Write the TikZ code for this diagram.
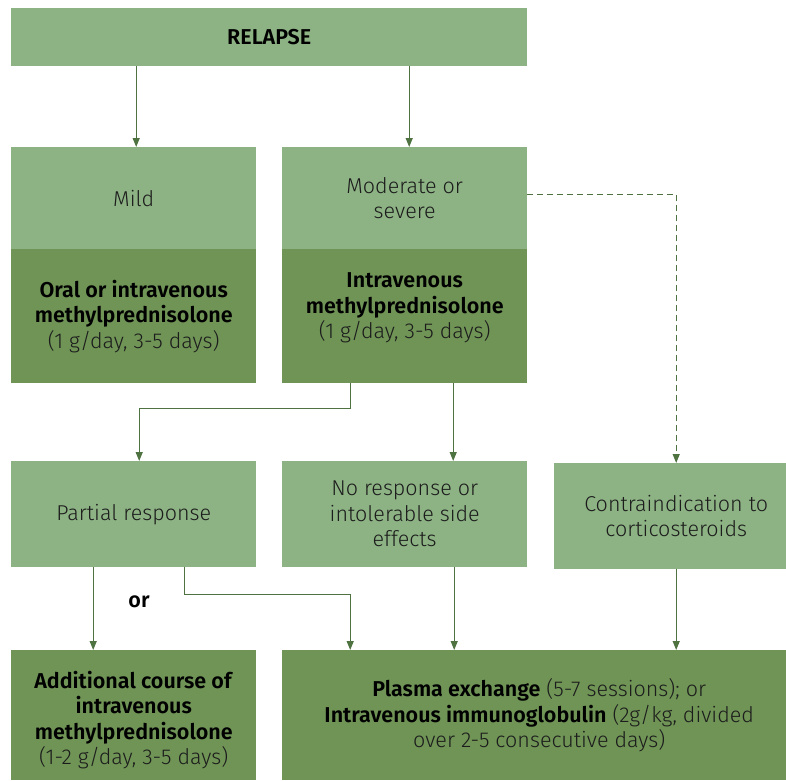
\documentclass[tikz,border=0pt]{standalone}
\usepackage{fontspec}
\setmainfont{Fira Sans}[UprightFont={* Light}, BoldFont={* SemiBold}]
\usetikzlibrary{arrows.meta}
\definecolor{lightg}{HTML}{8DB384}
\definecolor{darkg}{HTML}{6F9456}
\definecolor{lineg}{HTML}{4E7340}
\definecolor{txt}{HTML}{1C1C1C}
\newcommand\boldtxt[1]{\textcolor{black}{\textbf{#1}}}
\begin{document}
\begin{tikzpicture}[x=1pt,y=-1pt,
 box/.style={inner sep=0pt, anchor=north west, align=center, font=\fontsize{21.5}{25.5}\selectfont, text=txt},
 lightbox/.style={box, fill=lightg},
 darkbox/.style={box, fill=darkg},
 label/.style={inner sep=0pt, align=center, font=\fontsize{21.5}{25.5}\selectfont, text=txt},
 conn/.style={draw=lineg, line width=1.2pt, -{Triangle[length=9pt,width=7pt]}},
 dashconn/.style={conn, dash pattern=on 6pt off 4pt}]
\useasboundingbox (0,0) rectangle (786,780);

\node[lightbox, minimum width=516pt, minimum height=58pt] (relapse) at (11,8) {\boldtxt{RELAPSE}};

\node[lightbox, minimum width=245pt, minimum height=102pt] (mildT) at (11,147) {Mild};
\node[darkbox, minimum width=245pt, minimum height=134pt] (mildB) at (11,249) {\boldtxt{Oral or intravenous}\\\boldtxt{methylprednisolone}\\(1 g/day, 3-5 days)};

\node[lightbox, minimum width=245pt, minimum height=102pt] (modT) at (282,147) {Moderate or\\severe};
\node[darkbox, minimum width=245pt, minimum height=134pt] (modB) at (282,249) {};
\node[label] (modBtext) at ([yshift=8pt]modB.center) {\boldtxt{Intravenous}\\\boldtxt{methylprednisolone}\\(1 g/day, 3-5 days)};

\node[lightbox, minimum width=245pt, minimum height=106pt] (partial) at (11,461) {Partial response};
\node[lightbox, minimum width=245pt, minimum height=106pt] (noresp) at (282,461) {No response or\\intolerable side\\effects};
\node[lightbox, minimum width=244pt, minimum height=106pt] (contra) at (554,463) {Contraindication to\\corticosteroids};

\node[darkbox, minimum width=245pt, minimum height=130pt] (addl) at (11,650) {};
\node[label] (addltext) at ([yshift=-5pt]addl.center) {\boldtxt{Additional course of}\\\boldtxt{intravenous}\\\boldtxt{methylprednisolone}\\(1-2 g/day, 3-5 days)};
\node[darkbox, minimum width=514pt, minimum height=130pt] (plasma) at (282,650) {\boldtxt{Plasma exchange} (5-7 sessions); or\\\boldtxt{Intravenous immunoglobulin} (2g/kg, divided\\over 2-5 consecutive days)};

\node[label] (ortext) at (139,602) {\boldtxt{or}};

% connectors
\draw[conn] ([xshift=2.5pt]mildT.north |- relapse.south) -- ([xshift=2.5pt]mildT.north);
\draw[conn] ([xshift=4.5pt]modT.north |- relapse.south) -- ([xshift=4.5pt]modT.north);
\draw[dashconn] ([yshift=4pt]modT.east) -| (contra.north);
\draw[conn] ([xshift=-54.5pt]modB.south) -- ++(0,25) -| ([xshift=5.5pt]partial.north);
\draw[conn] ([xshift=48.5pt]modB.south) -- ([xshift=48.5pt]modB.south |- noresp.north);
\draw[conn] ([xshift=-40.5pt]partial.south) -- ([xshift=-40.5pt]partial.south |- addl.north);
\draw[conn] ([xshift=50.5pt]partial.south) -- ++(0,27) -| ([xshift=-189pt]plasma.north);
\draw[conn] ([xshift=49.5pt]noresp.south) -- ([xshift=49.5pt]noresp.south |- plasma.north);
\draw[conn] (contra.south) -- (contra.south |- plasma.north);
\end{tikzpicture}
\end{document}
